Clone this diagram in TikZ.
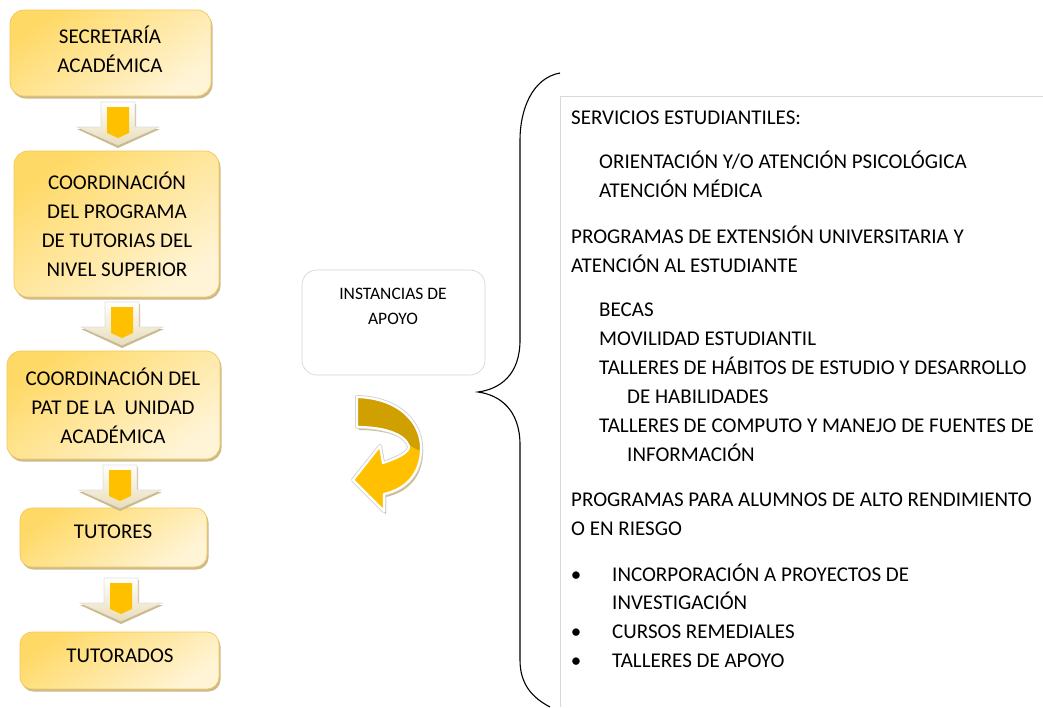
\documentclass[tikz,border=0pt]{standalone}
\usepackage{fontspec}
\setmainfont{Carlito}
\usetikzlibrary{shadows}
\definecolor{ytop}{HTML}{FFD966}
\definecolor{ybot}{HTML}{FFF4D6}
\definecolor{boxline}{HTML}{F2C75C}
\definecolor{shadowc}{HTML}{CDBA8A}
\definecolor{orangec}{HTML}{FFC000}
\definecolor{darkgold}{HTML}{CFA000}
\definecolor{headbot}{HTML}{E9DDB8}
\begin{document}
\begin{tikzpicture}[x=1pt,y=-1pt,
  box/.style={draw=boxline, line width=0.7pt, rounded corners=14pt,
    top color=ytop, bottom color=ybot, shading angle=35, inner sep=0pt,
    drop shadow={shadow xshift=1.5pt, shadow yshift=-2.5pt, fill=shadowc, opacity=1}},
  boxtext/.style={align=center, inner sep=0pt, font=\fontsize{21}{29}\selectfont},
  rt/.style={anchor=base west, inner sep=0pt, font=\fontsize{21}{29}\selectfont},
  bul/.style={anchor=base, inner sep=0pt, font=\fontsize{21}{29}\selectfont},
  darrow/.pic={
    \fill[shadowc] (-16,2)--(18,2)--(18,27)--(42,27)--(0,46)--(-41,27)--(-16,27)--cycle;
    \shade[top color=white, bottom color=headbot, draw=gray!25, line width=0.6pt]
      (-17,0)--(17,0)--(17,25)--(41,25)--(0,43)--(-41,25)--(-17,25)--cycle;
    \fill[orangec] (-11,5)--(11,5)--(11,31)--(0,36)--(-11,31)--cycle;
  }]
\useasboundingbox (0,0) rectangle (1043,707);

% left column boxes
\node[box, minimum width=201pt, minimum height=86pt] (b1) at (110.5,53) {};
\node[box, minimum width=205pt, minimum height=146pt] (b2) at (116.5,224) {};
\node[box, minimum width=213pt, minimum height=108pt] (b3) at (113.5,405) {};
\node[box, minimum width=187pt, minimum height=59pt, rounded corners=12pt] (b4) at (113.5,537.5) {};
\node[box, minimum width=199pt, minimum height=57pt, rounded corners=12pt] (b5) at (119.5,660.5) {};

\node[boxtext] (t1) at (110,49) {SECRETARÍA\\ACADÉMICA};
\node[boxtext] (t2) at (117,224) {COORDINACIÓN\\DEL PROGRAMA\\DE TUTORIAS DEL\\NIVEL SUPERIOR};
\node[boxtext] (t3) at (113,406) {COORDINACIÓN DEL\\PAT DE LA\ \ UNIDAD\\ACADÉMICA};
\node[boxtext] (t4) at (113,532) {TUTORES};
\node[boxtext] (t5) at (120,656) {TUTORADOS};

% block arrows
\pic (a1) at (118,102) {darrow};
\pic (a2) at (122,302) {darrow};
\pic (a3) at (120,465) {darrow};
\pic (a4) at (121,578) {darrow};

% instancias
\node[draw=gray!35, line width=0.6pt, rounded corners=15pt, minimum width=183pt, minimum height=105pt, fill=white] (inst) at (393.5,322.5) {};
\node[align=center, inner sep=0pt, font=\fontsize{17.5}{25}\selectfont] (instt) at (393,306) {INSTANCIAS DE\\APOYO};

% curved arrow
\fill[shadowc, shift={(2,3)}] (357,397) .. controls (398,398) and (423,422) .. (421,452)
  .. controls (419,478) and (402,490) .. (384,494) -- (384,511) -- (353,480) -- (380,446) -- (383,463)
  .. controls (398,458) and (410,452) .. (409,446)
  .. controls (404,433) and (382,427) .. (357,427) -- cycle;
\draw[gray!35, line width=4pt, line join=round] (357,397) .. controls (398,398) and (423,422) .. (421,452)
  .. controls (419,478) and (402,490) .. (384,494) -- (384,511) -- (353,480) -- (380,446) -- (383,463)
  .. controls (398,458) and (410,452) .. (409,446)
  .. controls (404,433) and (382,427) .. (357,427) -- cycle;
\fill[orangec] (357,397) .. controls (398,398) and (423,422) .. (421,452)
  .. controls (419,478) and (402,490) .. (384,494) -- (384,511) -- (353,480) -- (380,446) -- (383,463)
  .. controls (398,458) and (410,452) .. (409,446)
  .. controls (404,433) and (382,427) .. (357,427) -- cycle;
\begin{scope}
  \clip (340,380) -- (440,380) -- (440,452) -- (418,450) -- (405,443) -- (340,432) -- cycle;
  \fill[darkgold] (357,397) .. controls (398,398) and (423,422) .. (421,452)
  .. controls (419,478) and (402,490) .. (384,494) -- (384,511) -- (353,480) -- (380,446) -- (383,463)
  .. controls (398,458) and (410,452) .. (409,446)
  .. controls (404,433) and (382,427) .. (357,427) -- cycle;
\end{scope}
\draw[white, line width=2.2pt, line join=round] (357,397) .. controls (398,398) and (423,422) .. (421,452)
  .. controls (419,478) and (402,490) .. (384,494) -- (384,511) -- (353,480) -- (380,446) -- (383,463)
  .. controls (398,458) and (410,452) .. (409,446)
  .. controls (404,433) and (382,427) .. (357,427) -- cycle;

% brace
\coordinate (brtop) at (560,73);
\coordinate (brtip) at (478,392);
\coordinate (brbot) at (550,707);
\draw[line width=1.1pt] (brtop) .. controls (532,78) and (520,110) .. (520,140) -- (520,340)
  .. controls (520,375) and (500,389) .. (brtip)
  .. controls (500,395) and (520,410) .. (520,445) -- (520,660)
  .. controls (520,685) and (533,698) .. (brbot);

% right text frame
\draw[gray!30, line width=0.8pt] (560.5,707) -- (560.5,96.5) -- (1043,96.5);

% right text
\node[rt] (r1) at (571,124) {SERVICIOS ESTUDIANTILES:};
\node[rt] (r2) at (599,168) {ORIENTACIÓN Y/O ATENCIÓN PSICOLÓGICA};
\node[rt] (r3) at (599,197) {ATENCIÓN MÉDICA};
\node[rt] (r4) at (571,243) {PROGRAMAS DE EXTENSIÓN UNIVERSITARIA Y};
\node[rt] (r5) at (571,272) {ATENCIÓN AL ESTUDIANTE};
\node[rt] (r6) at (599,316) {BECAS};
\node[rt] (r7) at (599,345) {MOVILIDAD ESTUDIANTIL};
\node[rt] (r8) at (599,374) {TALLERES DE HÁBITOS DE ESTUDIO Y DESARROLLO};
\node[rt] (r9) at (627,403) {DE HABILIDADES};
\node[rt] (r10) at (599,432) {TALLERES DE COMPUTO Y MANEJO DE FUENTES DE};
\node[rt] (r11) at (627,461) {INFORMACIÓN};
\node[rt] (r12) at (571,506) {PROGRAMAS PARA ALUMNOS DE ALTO RENDIMIENTO};
\node[rt] (r13) at (571,535) {O EN RIESGO};
\node[bul] (u1) at (576,581) {•};
\node[rt] (r14) at (612,581) {INCORPORACIÓN A PROYECTOS DE};
\node[rt] (r15) at (612,609) {INVESTIGACIÓN};
\node[bul] (u2) at (576,638) {•};
\node[rt] (r16) at (612,638) {CURSOS REMEDIALES};
\node[bul] (u3) at (576,667) {•};
\node[rt] (r17) at (612,667) {TALLERES DE APOYO};
\end{tikzpicture}
\end{document}
